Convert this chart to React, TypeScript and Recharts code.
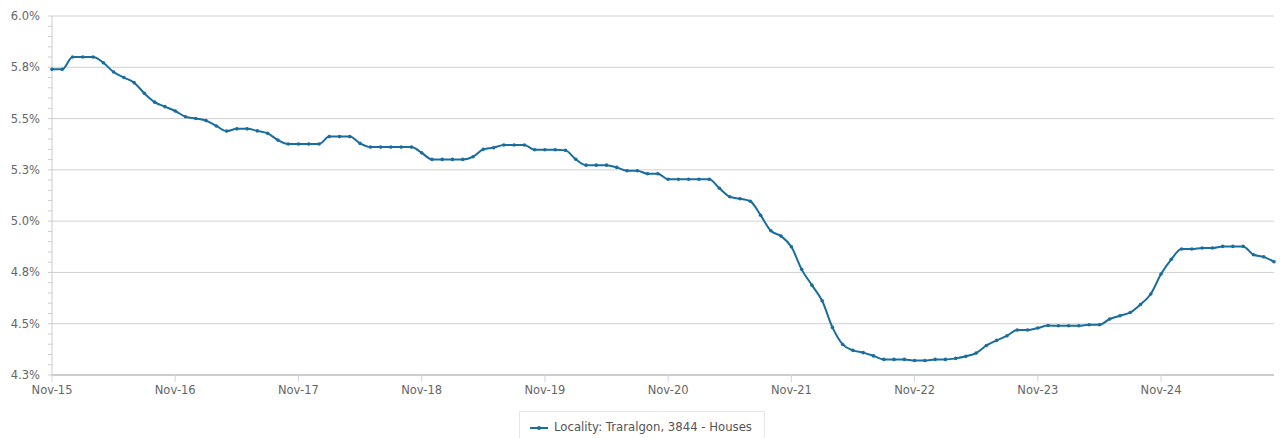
import React from 'react';
import { LineChart, Line, XAxis, YAxis, CartesianGrid, Legend } from 'recharts';

const FONT = '"DejaVu Sans", Verdana, sans-serif';
const LINE_COLOR = '#1a6d9f';
const SERIES_NAME = 'Locality: Traralgon, 3844 - Houses';

const MONTHS = ['Jan', 'Feb', 'Mar', 'Apr', 'May', 'Jun', 'Jul', 'Aug', 'Sep', 'Oct', 'Nov', 'Dec'];
const START_MONTH_INDEX = 10; // Nov
const START_YEAR = 15;

const yieldValues = [
  5.74, 5.74, 5.8, 5.8, 5.8, 5.772, 5.727, 5.7, 5.675, 5.623, 5.58, 5.558,
  5.537, 5.509, 5.5, 5.49, 5.464, 5.439, 5.45, 5.45, 5.44, 5.428, 5.395, 5.376,
  5.376, 5.376, 5.376, 5.412, 5.412, 5.412, 5.379, 5.361, 5.361, 5.361, 5.361, 5.361,
  5.333, 5.301, 5.301, 5.301, 5.301, 5.314, 5.35, 5.358, 5.371, 5.371, 5.371, 5.348,
  5.348, 5.348, 5.345, 5.302, 5.273, 5.273, 5.273, 5.262, 5.246, 5.246, 5.231, 5.231,
  5.204, 5.204, 5.204, 5.204, 5.204, 5.16, 5.119, 5.109, 5.097, 5.029, 4.953, 4.927,
  4.875, 4.765, 4.688, 4.612, 4.482, 4.399, 4.37, 4.359, 4.343, 4.326, 4.326, 4.326,
  4.321, 4.321, 4.326, 4.326, 4.331, 4.341, 4.357, 4.394, 4.419, 4.441, 4.469, 4.469,
  4.479, 4.491, 4.49, 4.49, 4.49, 4.495, 4.495, 4.523, 4.539, 4.555, 4.594, 4.645,
  4.742, 4.814, 4.864, 4.864, 4.869, 4.869, 4.877, 4.877, 4.877, 4.836, 4.826, 4.802,
];

const categories = yieldValues.map((_, i) => {
  const m = START_MONTH_INDEX + i;
  return `${MONTHS[m % 12]}-${START_YEAR + Math.floor(m / 12)}`;
});

const majorTicks = [4.25, 4.5, 4.75, 5.0, 5.25, 5.5, 5.75, 6.0];
const MINOR_PER_MAJOR = 5;

const allTicks: number[] = [];
majorTicks.forEach((t, i) => {
  allTicks.push(t);
  if (i < majorTicks.length - 1) {
    const step = (majorTicks[i + 1] - t) / MINOR_PER_MAJOR;
    for (let k = 1; k < MINOR_PER_MAJOR; k++) allTicks.push(Math.round((t + k * step) * 1000) / 1000);
  }
});

const data = categories.map((month, i) => ({ month, value: yieldValues[i] }));

const isMajor = (v: number) => majorTicks.some((t) => Math.abs(t - v) < 1e-6);

const YTick = (props: any) => {
  const { x, y, payload } = props;
  if (!isMajor(payload.value)) return <g />;
  return (
    <text x={x} y={y} dy={4} textAnchor="end" fill="#666666" fontSize={11.5} fontFamily={FONT}>
      {`${Number(payload.value).toFixed(1)}%`}
    </text>
  );
};

const LegendBox = () => (
  <div
    style={{
      display: 'inline-flex',
      alignItems: 'center',
      border: '1px solid #e6e6e6',
      padding: '9px 12px 10px 10px',
      fontSize: 11.7,
      color: '#555555',
      fontFamily: FONT,
      background: '#fff',
      lineHeight: '13px',
      whiteSpace: 'nowrap',
    }}
  >
    <svg width={18} height={6} style={{ display: 'block' }}>
      <line x1={0} y1={3} x2={18} y2={3} stroke={LINE_COLOR} strokeWidth={2} />
      <circle cx={9} cy={3} r={2} fill={LINE_COLOR} />
    </svg>
    <span style={{ marginLeft: 6 }}>{SERIES_NAME}</span>
  </div>
);

export default function App() {
  return (
    <div style={{ position: 'absolute', left: 0, top: 0, fontFamily: FONT }}>
      <LineChart
        width={1280}
        height={438}
        data={data}
        margin={{ top: 16, right: 6, left: 0, bottom: 33 }}
        style={{ fontFamily: FONT }}
      >
        <CartesianGrid horizontal vertical={false} horizontalValues={majorTicks} stroke="#d0d0d0" strokeDasharray="" />
        <XAxis
          dataKey="month"
          interval={11}
          height={30}
          tickSize={7}
          tickMargin={4}
          tickLine={{ stroke: '#ccd6eb' }}
          axisLine={{ stroke: '#cccccc', strokeWidth: 2 }}
          tick={{ fill: '#666666', fontSize: 11.5, fontFamily: FONT }}
        />
        <YAxis
          type="number"
          domain={[4.25, 6.0]}
          ticks={allTicks}
          interval={0}
          width={52}
          tickSize={4}
          tickMargin={8}
          tickLine={{ stroke: '#cccccc' }}
          axisLine={{ stroke: '#cccccc' }}
          tick={<YTick />}
          allowDataOverflow
        />
        <Legend
          layout="horizontal"
          verticalAlign="middle"
          align="center"
          content={<LegendBox />}
          wrapperStyle={{ left: 519, top: 411, width: 'auto', height: 'auto' }}
        />
        <Line
          type="monotone"
          dataKey="value"
          name={SERIES_NAME}
          stroke={LINE_COLOR}
          strokeWidth={2}
          dot={{ r: 1.8, fill: LINE_COLOR, stroke: LINE_COLOR, strokeWidth: 0 }}
          activeDot={false}
          isAnimationActive={false}
        />
      </LineChart>
    </div>
  );
}
